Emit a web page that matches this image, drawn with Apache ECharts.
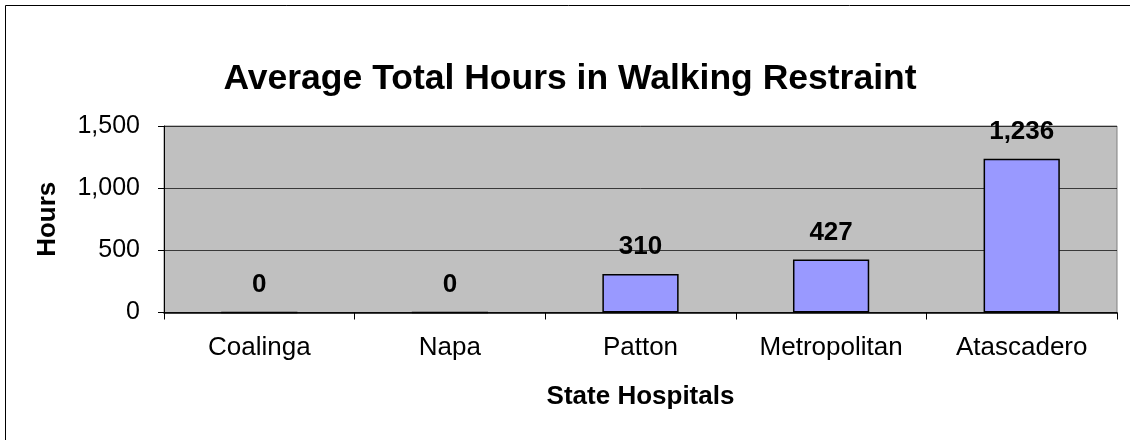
<!DOCTYPE html>
<html>
<head>
<meta charset="utf-8">
<script src="https://cdn.jsdelivr.net/npm/echarts@6/dist/echarts.min.js"></script>
<style>html,body{margin:0;padding:0;background:#fff;}#c{width:1130px;height:440px;}</style>
</head>
<body>
<div id="c"></div>
<script>
const categories = ['Coalinga', 'Napa', 'Patton', 'Metropolitan', 'Atascadero'];
const hours = [0, 0, 310, 427, 1236];
const yTicks = [0, 500, 1000, 1500];

const chart = echarts.init(document.getElementById('c'), null, {renderer: 'canvas'});
const F = 'Arial, "Liberation Sans", sans-serif';
chart.setOption({
  animation: false,
  backgroundColor: '#fff',
  graphic: [{
    type: 'rect', shape: {x: 5.5, y: 5.5, width: 1140, height: 450},
    style: {fill: 'none', stroke: '#000', lineWidth: 1}, silent: true, z: -1
  }],
  title: {
    text: 'Average Total Hours in Walking Restraint',
    left: 565, top: 56, textAlign: 'center',
    textStyle: {fontFamily: F, fontWeight: 'bold', fontSize: 35.5, color: '#000'}
  },
  grid: {left: 164, top: 126, right: 13, bottom: 127.5, show: true,
         backgroundColor: '#C0C0C0', borderColor: '#808080', borderWidth: 1},
  xAxis: {
    type: 'category', data: categories, z: 5,
    name: 'State Hospitals', nameLocation: 'middle', nameGap: 71,
    nameTextStyle: {fontFamily: F, fontWeight: 'bold', fontSize: 26, color: '#000'},
    axisLine: {lineStyle: {color: '#000', width: 1.5}},
    axisTick: {show: true, length: 7, alignWithLabel: false, lineStyle: {color: '#000'}},
    axisLabel: {fontFamily: F, fontSize: 26, color: '#000', margin: 22}
  },
  yAxis: {
    type: 'value', min: 0, max: 1500, interval: 500,
    name: 'Hours', nameLocation: 'middle', nameGap: 103, nameRotate: 90,
    nameTextStyle: {fontFamily: F, fontWeight: 'bold', fontSize: 26, color: '#000'},
    axisLine: {show: true, lineStyle: {color: '#000', width: 1}},
    axisTick: {show: true, length: 6, lineStyle: {color: '#000'}},
    splitLine: {show: true, lineStyle: {color: '#000', width: 1, opacity: 0.7}},
    axisLabel: {fontFamily: F, fontSize: 25, color: '#000', margin: 24,
      formatter: v => v.toLocaleString('en-US')}
  },
  series: [{
    type: 'bar', data: hours, barWidth: '40%', z: 1,
    itemStyle: {color: '#9999FF', borderColor: '#000', borderWidth: 1.5},
    label: {show: true, position: 'top', distance: 14,
      fontFamily: F, fontWeight: 'bold', fontSize: 26, color: '#000',
      formatter: p => p.value.toLocaleString('en-US')}
  }]
});
</script>
</body>
</html>
